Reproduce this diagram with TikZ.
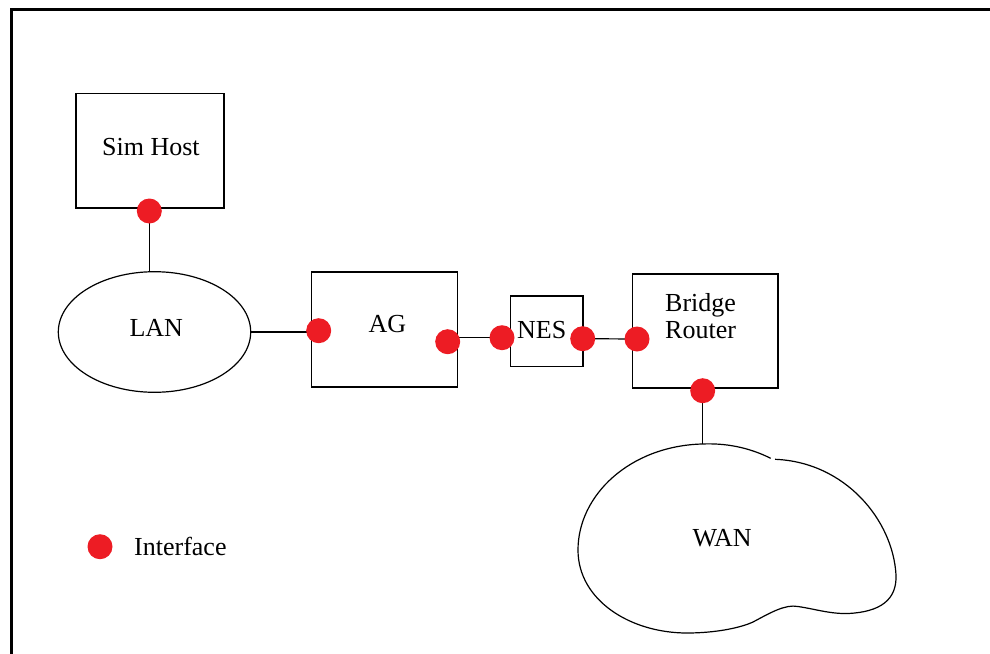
\documentclass[tikz,border=0pt]{standalone}
\usepackage{fontspec}
\setmainfont{Liberation Serif}
\usetikzlibrary{backgrounds,shapes.geometric}
\definecolor{ifred}{RGB}{237,28,36}
\begin{document}
\begin{tikzpicture}[x=1pt,y=-1pt,
  unit/.style={draw,line width=1.2pt,rectangle,inner sep=0pt},
  net/.style={draw,line width=1.2pt,ellipse,inner sep=0pt},
  iface/.style={circle,fill=ifred,inner sep=0pt,minimum size=25pt},
  lbl/.style={anchor=base west,inner sep=0pt,font=\fontsize{26}{30}\selectfont},
  wire/.style={line width=1.2pt}]
\useasboundingbox (0,0) rectangle (990,653);
\clip (0,0) rectangle (990,653);

% outer frame
\draw[line width=3pt] (11,700) -- (11,9.5) -- (1000,9.5);

% equipment boxes
\node[unit,minimum width=148pt,minimum height=114.7pt] (simhost) at (150,150.7) {};
\node[unit,minimum width=146pt,minimum height=115pt] (ag) at (384.3,329.5) {};
\node[unit,minimum width=72.3pt,minimum height=70.7pt] (nes) at (546.8,331.3) {};
\node[unit,minimum width=145.3pt,minimum height=114pt] (br) at (705.3,331) {};
\node[net,minimum width=192.4pt,minimum height=120.6pt] (lan) at (154.5,332) {};

% WAN cloud
\draw[line width=1.2pt]
  (770.7,458.3) .. controls (748,447) and (725,443) .. (702,444)
  .. controls (630,446) and (578,495) .. (578,550)
  .. controls (578,600) and (630,633) .. (687,633)
  .. controls (715,633) and (740,628) .. (753,622)
  .. controls (770,613) and (785,604) .. (798,606.5)
  .. controls (815,609) and (830,614) .. (848,613.5)
  .. controls (880,612) and (897,600) .. (896,575)
  .. controls (893,520) and (845,462) .. (775,459.3);
\coordinate (wantop) at (704,444);

% labels
\node[lbl] (tsim) at (102,155.7) {Sim Host};
\node[lbl] (tlan) at (129.3,336.7) {LAN};
\node[lbl] (tag) at (368.3,332.3) {AG};
\node[lbl] (tnes) at (517,338.3) {NES};
\node[lbl] (tbr1) at (665,311.7) {Bridge};
\node[lbl] (tbr2) at (665,338.3) {Router};
\node[lbl] (twan) at (692.3,546.7) {WAN};
\node[lbl] (tif) at (134,555) {Interface};

% interfaces
\node[iface] (isim) at (149.3,211) {};
\node[iface] (iag1) at (318.7,330.7) {};
\node[iface] (iag2) at (447.7,341.7) {};
\node[iface] (ines1) at (502,337.7) {};
\node[iface] (ines2) at (582.7,338.7) {};
\node[iface] (ibr1) at (637,339) {};
\node[iface] (ibr2) at (702.7,390.7) {};
\node[iface] (ikey) at (100,546.7) {};

% links
\begin{scope}[on background layer]
  \draw[wire] (isim.center) -- (isim.center |- lan.north);
  \draw[wire] (lan.east) -- (lan.east -| iag1.center);
  \draw[wire] (iag2.center |- ines1.center) -- (ines1.center);
  \draw[wire] (ines2.center) -- (ibr1.center);
  \draw[wire] (ibr2.center) -- (ibr2.center |- wantop);
\end{scope}
\end{tikzpicture}
\end{document}
